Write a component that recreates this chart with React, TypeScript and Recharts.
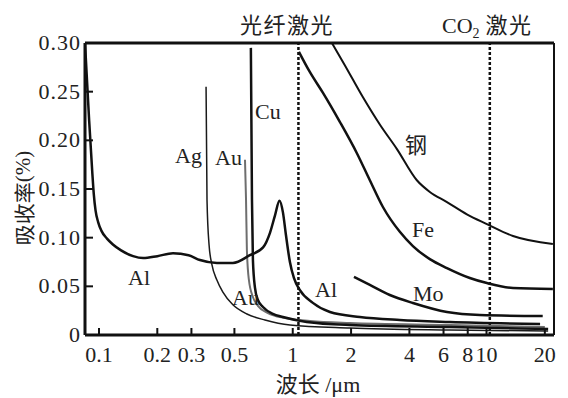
import { Line, LineChart, ReferenceLine, XAxis, YAxis } from "recharts";

// wavelength (µm) and absorption
const alX = [0.0847, 0.089, 0.0925, 0.094, 0.096, 0.099, 0.103, 0.11, 0.118, 0.13, 0.15, 0.169, 0.2, 0.241, 0.29, 0.332, 0.406, 0.491, 0.601, 0.703, 0.763, 0.81, 0.854, 0.89, 0.922, 0.967, 1.014, 1.089, 1.27, 1.556, 2.22, 3.57, 6.47, 18.9];
const alY = [0.3, 0.22, 0.165, 0.145, 0.128, 0.116, 0.107, 0.099, 0.093, 0.087, 0.081, 0.079, 0.081, 0.084, 0.082, 0.077, 0.074, 0.074, 0.082, 0.09, 0.105, 0.123, 0.138, 0.126, 0.103, 0.075, 0.0586, 0.046, 0.033, 0.0236, 0.0185, 0.0154, 0.0134, 0.0113];

const cuX = [0.608, 0.616, 0.623, 0.638, 0.661, 0.702, 0.79, 0.89, 1.18, 1.97, 6.47, 20.8];
const cuY = [0.295, 0.139, 0.077, 0.049, 0.036, 0.0288, 0.0216, 0.0185, 0.0134, 0.0103, 0.0082, 0.0062];

const agX = [0.357, 0.361, 0.37, 0.383, 0.406, 0.436, 0.491, 0.58, 0.719, 0.967, 1.97, 6.47, 20.8];
const agY = [0.255, 0.139, 0.0925, 0.072, 0.0565, 0.044, 0.031, 0.0216, 0.0154, 0.0103, 0.0072, 0.0051, 0.0041];

const auX = [0.567, 0.574, 0.58, 0.594, 0.623, 0.661, 0.745, 0.911, 1.227, 1.97, 6.47, 20];
const auY = [0.18, 0.139, 0.087, 0.0565, 0.039, 0.03, 0.0226, 0.0175, 0.0144, 0.0123, 0.0103, 0.0082];

const feX = [1.076, 1.227, 1.43, 1.75, 2.14, 2.5, 2.92, 3.57, 4.17, 5.1, 6.25, 8.2, 10.05, 13.7, 22];
const feY = [0.291, 0.27, 0.249, 0.219, 0.187, 0.159, 0.1315, 0.106, 0.0914, 0.078, 0.0688, 0.0586, 0.0534, 0.0483, 0.0473];

const steelX = [1.593, 1.86, 2.3, 2.82, 3.45, 4.37, 5.1, 6.25, 7.92, 10.05, 13.7, 22];
const steelY = [0.3, 0.277, 0.2445, 0.216, 0.191, 0.159, 0.147, 0.1366, 0.124, 0.114, 0.1017, 0.0935];

const moX = [2.07, 2.5, 3.17, 4.17, 6.25, 9.25, 19.5];
const moY = [0.0596, 0.0514, 0.0411, 0.0329, 0.0236, 0.0205, 0.0195];

const xTicks = [0.1, 0.2, 0.3, 0.5, 1, 2, 4, 6, 8, 10, 20];
const yTicks = [0, 0.05, 0.1, 0.15, 0.2, 0.25, 0.3];
const xDomain = [0.0847, 22.3];
const fiberLaser = 1.07;
const co2Laser = 10.4;

const zip = (xs: number[], ys: number[]) => xs.map((x, i) => ({ x, y: ys[i] }));

const SERIF = '"Liberation Serif", "Times New Roman", "Noto Sans CJK SC", serif';
const CJK = '"Noto Sans CJK SC", sans-serif';

function XTick({ x, y, payload }: any) {
  return (
    <g>
      <line x1={x} x2={x} y1={y} y2={y - 7} stroke="#111" strokeWidth={2} />
      <text x={x} y={y + 27} textAnchor="middle" fontSize={22} fontFamily={SERIF} fill="#222">
        {payload.value}
      </text>
    </g>
  );
}

function YTick({ x, y, payload }: any) {
  const v = payload.value;
  return (
    <g>
      <line x1={x} x2={x + 8} y1={y} y2={y} stroke="#111" strokeWidth={2} />
      <text x={x - 4} y={y + 7} textAnchor="end" fontSize={22} fontFamily={SERIF} fill="#222" letterSpacing={1}>
        {v === 0 ? "0" : v.toFixed(2)}
      </text>
    </g>
  );
}

const labelStyle = { fontSize: 22, fontFamily: SERIF, fill: "#222" };

export default function App() {
  const lineProps = { dataKey: "y", type: "monotone" as const, dot: false, isAnimationActive: false };
  return (
    <div style={{ position: "relative", width: 560, height: 390 }}>
      <LineChart width={560} height={390} margin={{ top: 35, right: 14, left: 0, bottom: 0 }}>
        <XAxis
          dataKey="x"
          type="number"
          scale="log"
          domain={xDomain}
          allowDataOverflow
          ticks={xTicks}
          tick={<XTick />}
          tickLine={false}
          tickSize={0}
          tickMargin={0}
          height={63}
          axisLine={{ stroke: "#111", strokeWidth: 3 }}
        />
        <YAxis
          type="number"
          domain={[0, 0.3]}
          allowDataOverflow
          ticks={yTicks}
          tick={<YTick />}
          tickLine={false}
          tickSize={0}
          tickMargin={0}
          width={77}
          axisLine={{ stroke: "#111", strokeWidth: 3 }}
        />
        <ReferenceLine y={0.3} stroke="#111" strokeWidth={3} />
        <ReferenceLine x={xDomain[1]} stroke="#111" strokeWidth={2} />
        <ReferenceLine x={fiberLaser} stroke="#111" strokeWidth={2.5} strokeDasharray="3 2" />
        <ReferenceLine x={co2Laser} stroke="#111" strokeWidth={2.5} strokeDasharray="3 2" />
        <Line data={zip(agX, agY)} {...lineProps} stroke="#1a1a1a" strokeWidth={1.5} />
        <Line data={zip(auX, auY)} {...lineProps} stroke="#6e6e6e" strokeWidth={2} />
        <Line data={zip(cuX, cuY)} {...lineProps} stroke="#111" strokeWidth={2.5} />
        <Line data={zip(alX, alY)} {...lineProps} stroke="#111" strokeWidth={2.5} />
        <Line data={zip(feX, feY)} {...lineProps} stroke="#111" strokeWidth={2.5} />
        <Line data={zip(steelX, steelY)} {...lineProps} stroke="#111" strokeWidth={2} />
        <Line data={zip(moX, moY)} {...lineProps} stroke="#111" strokeWidth={2.5} />
      </LineChart>
      <svg width={560} height={390} style={{ position: "absolute", left: 0, top: 0, pointerEvents: "none" }}>
        <text x={232} y={25} fontSize={22} fontFamily={CJK} fill="#222" letterSpacing={1.5}>光纤激光</text>
        <text x={434} y={25} fontSize={22} fontFamily={SERIF} fill="#222">
          CO<tspan fontSize={14} dy={5}>2</tspan>
          <tspan dy={-5} fontFamily={CJK} dx={6} letterSpacing={1.5}>激光</tspan>
        </text>
        <text
          x={15}
          y={190}
          transform="rotate(-90 15 190)"
          textAnchor="middle"
          dominantBaseline="central"
          fontSize={21}
          fontFamily={SERIF}
          fill="#222"
        >
          <tspan fontFamily={CJK}>吸收率</tspan>(%)
        </text>
        <text x={310} y={384} textAnchor="middle" fontSize={22} fontFamily={SERIF} fill="#222">
          <tspan fontFamily={CJK}>波长</tspan> /μm
        </text>
        <text x={167} y={155} {...labelStyle}>Ag</text>
        <text x={207} y={157} {...labelStyle}>Au</text>
        <text x={247} y={111} {...labelStyle}>Cu</text>
        <text x={120} y={277} {...labelStyle}>Al</text>
        <text x={224} y={297} {...labelStyle}>Au</text>
        <text x={307} y={289} {...labelStyle}>Al</text>
        <text x={397} y={145} fontSize={22} fontFamily={CJK} fill="#222">钢</text>
        <text x={404} y={229} {...labelStyle}>Fe</text>
        <text x={405} y={293} {...labelStyle}>Mo</text>
      </svg>
    </div>
  );
}
